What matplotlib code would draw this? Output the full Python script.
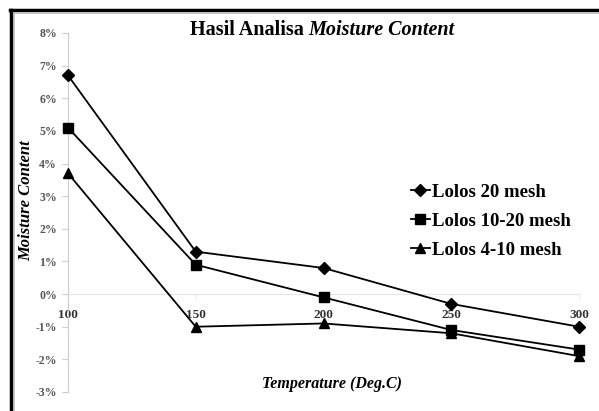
import matplotlib
matplotlib.use("Agg")
import matplotlib.pyplot as plt
from matplotlib.lines import Line2D
from matplotlib.ticker import FuncFormatter

temps = [100, 150, 200, 250, 300]
series_names = ["Lolos 20 mesh", "Lolos 10-20 mesh", "Lolos 4-10 mesh"]
lolos_20 = [6.7, 1.3, 0.8, -0.3, -1.0]
lolos_10_20 = [5.1, 0.9, -0.1, -1.1, -1.7]
lolos_4_10 = [3.7, -1.0, -0.9, -1.2, -1.9]
y_ticks = [-3, -2, -1, 0, 1, 2, 3, 4, 5, 6, 7, 8]

plt.rcParams['font.family'] = ['Liberation Serif', 'DejaVu Serif']

fig = plt.figure(figsize=(5.99, 4.11), dpi=100)
ax = fig.add_axes([68/599, 1-392/411, (579-68)/599, (392-33)/411])

markers = ['D', 's', '^']
sizes = [6.5, 7.5, 7.5]
for vals, m, s, name in zip([lolos_20, lolos_10_20, lolos_4_10], markers, sizes, series_names):
    ax.plot(temps, vals, color='black', lw=1.3, marker=m, markersize=s,
            markerfacecolor='black', markeredgecolor='black', clip_on=False, label=name, zorder=3)

ax.set_xlim(100, 300)
ax.set_ylim(-3, 8)
ax.set_yticks(y_ticks)
ax.yaxis.set_major_formatter(FuncFormatter(lambda v, p: f"{int(round(v))}%"))
ax.set_xticks(temps)
ax.set_xticklabels([str(t) for t in temps])

for s in ['top', 'right']:
    ax.spines[s].set_visible(False)
ax.spines['bottom'].set_position(('data', 0))
ax.spines['bottom'].set_color('#e6e6e6')
ax.spines['bottom'].set_linewidth(0.8)
ax.spines['left'].set_color('#cccccc')
ax.spines['left'].set_linewidth(0.8)

ax.tick_params(axis='y', colors='#cccccc', labelcolor='#555555', labelsize=8.5, length=4, width=0.8, pad=4)
ax.tick_params(axis='x', colors='#e6e6e6', labelcolor='#333333', labelsize=9.5, length=3, width=0.8, pad=8)
for lab in ax.get_xticklabels() + ax.get_yticklabels():
    lab.set_fontweight('bold')

fig.text(0.515, 1-30/411, "Hasil Analisa ", ha='right', va='center', fontsize=14.5, fontweight='bold')
fig.text(0.515, 1-30/411, "Moisture Content", ha='left', va='center', fontsize=14.5, fontweight='bold', style='italic')

fig.text(26/599, 1-201/411, "Moisture Content", rotation=90, ha='center', va='center', fontsize=12, fontweight='bold', style='italic')
fig.text(332/599, 1-384/411, "Temperature (Deg.C)", ha='center', va='center', fontsize=11.5, fontweight='bold', style='italic')

leg = ax.legend(loc='upper left', bbox_to_anchor=(394/599, 1-167/411), bbox_transform=fig.transFigure,
                frameon=False, handlelength=1.0, handletextpad=0.1, labelspacing=0.62,
                prop={'family': 'Liberation Serif', 'weight': 'bold', 'size': 13.5})

# frame border (top and left thick black lines)
fig.add_artist(Line2D([10/599, 1], [1-10/411, 1-10/411], transform=fig.transFigure, color='black', lw=2.5))
fig.add_artist(Line2D([10/599, 1], [1-13/411, 1-13/411], transform=fig.transFigure, color='#bbbbbb', lw=1.2))
fig.add_artist(Line2D([11/599, 11/599], [0, 1-10/411], transform=fig.transFigure, color='black', lw=2.5))
fig.add_artist(Line2D([14/599, 14/599], [0, 1-13/411], transform=fig.transFigure, color='#bbbbbb', lw=1.2))

fig.savefig("out.png", dpi=100)
